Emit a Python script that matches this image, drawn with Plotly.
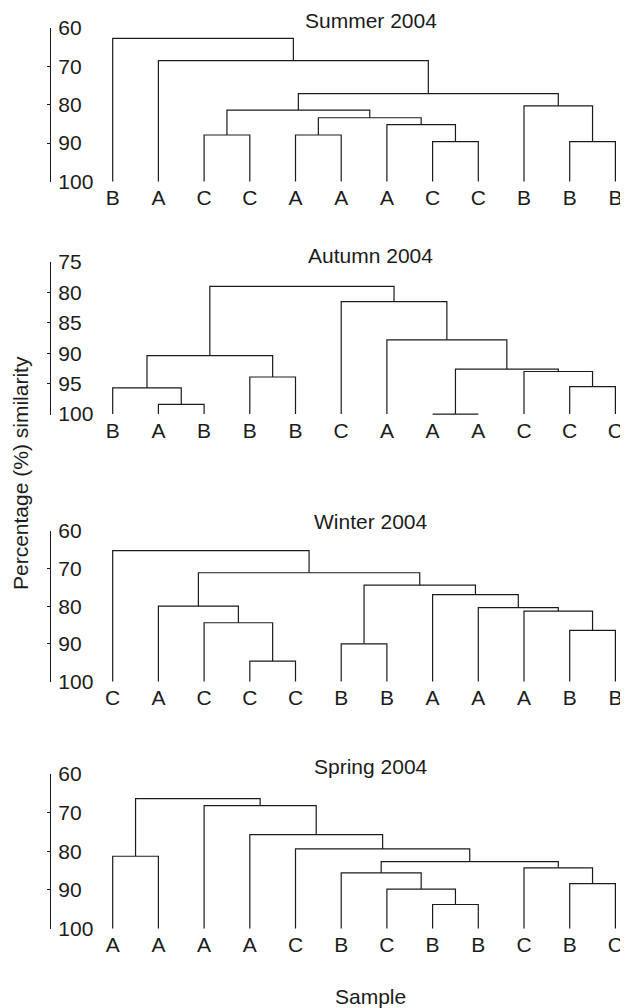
import plotly.graph_objects as go

# ---------------- data ----------------
panel_titles = ["Summer 2004", "Autumn 2004", "Winter 2004", "Spring 2004"]

summer_labels = ["B", "A", "C", "C", "A", "A", "A", "C", "C", "B", "B", "B"]
summer_left = [2, 4, 7, 10, 6, 13, 12, 9, 18, 1, 0]
summer_right = [3, 5, 8, 11, 14, 16, 17, 15, 19, 20, 21]
summer_height = [87.9, 87.9, 89.6, 89.6, 85.2, 83.4, 81.4, 80.3, 77.1, 68.5, 62.7]

autumn_labels = ["B", "A", "B", "B", "B", "C", "A", "A", "A", "C", "C", "C"]
autumn_left = [1, 0, 3, 13, 7, 10, 9, 16, 6, 5, 15]
autumn_right = [2, 12, 4, 14, 8, 11, 17, 18, 19, 20, 21]
autumn_height = [98.4, 95.7, 93.9, 90.4, 100.0, 95.5, 93.0, 92.6, 87.8, 81.5, 79.0]

winter_labels = ["C", "A", "C", "C", "C", "B", "B", "A", "A", "A", "B", "B"]
winter_left = [3, 2, 1, 5, 10, 9, 8, 7, 15, 14, 0]
winter_right = [4, 12, 13, 6, 11, 16, 17, 18, 19, 20, 21]
winter_height = [94.6, 84.4, 80.0, 90.0, 86.4, 81.3, 80.4, 76.9, 74.4, 71.1, 65.2]

spring_labels = ["A", "A", "A", "A", "C", "B", "C", "B", "B", "C", "B", "C"]
spring_left = [0, 7, 6, 5, 10, 9, 15, 4, 3, 2, 12]
spring_right = [1, 8, 13, 14, 11, 16, 17, 18, 19, 20, 21]
spring_height = [81.3, 93.8, 89.8, 85.6, 88.4, 84.3, 82.7, 79.4, 75.7, 68.2, 66.4]

y_tick_values = [
    [60, 70, 80, 90, 100],
    [75, 80, 85, 90, 95, 100],
    [60, 70, 80, 90, 100],
    [60, 70, 80, 90, 100],
]

panels = [
    (summer_labels, summer_left, summer_right, summer_height),
    (autumn_labels, autumn_left, autumn_right, autumn_height),
    (winter_labels, winter_left, winter_right, winter_height),
    (spring_labels, spring_left, spring_right, spring_height),
]

# ---------------- layout geometry ----------------
OFF = 8                      # default page margin of the html body
W, H = 628 - OFF, 1008 - OFF
ML, MR = 50 - OFF, 0
FONT = "Liberation Sans, Arial, sans-serif"
FS = 21
INK = "#1c1c1c"
# page-pixel rows of axis top / bottom for each panel
axis_px = [(28, 182), (262, 415), (531, 682), (774, 929)]
title_px = [17, 255, 521, 766]


def frac(page_y):
    return 1 - (page_y - OFF) / H


def dendro_path(labels, left, right, height):
    n = len(labels)
    xs = {i: float(i) for i in range(n)}
    hs = {i: 100.0 for i in range(n)}
    px, py = [], []
    for k, (a, b, h) in enumerate(zip(left, right, height)):
        node = n + k
        px += [xs[a], xs[a], xs[b], xs[b], None]
        py += [hs[a], h, h, hs[b], None]
        xs[node] = (xs[a] + xs[b]) / 2
        hs[node] = h
    return px, py


# x range chosen so that leaves sit ~45.7 px apart starting ~63 px right of the axis
plot_w = W - ML - MR
unit = 45.7
x_lo = -(112.7 - 50) / unit
x_hi = x_lo + plot_w / unit

fig = go.Figure()
layout = dict(
    width=W, height=H,
    margin=dict(l=ML, r=MR, t=0, b=0, pad=0),
    paper_bgcolor="white", plot_bgcolor="white",
    showlegend=False,
    font=dict(family=FONT, size=FS, color=INK),
)
annotations = []

for i, (labels, left, right, height) in enumerate(panels):
    sfx = "" if i == 0 else str(i + 1)
    px, py = dendro_path(labels, left, right, height)
    fig.add_trace(go.Scatter(
        x=px, y=py, mode="lines",
        line=dict(color=INK, width=1.2),
        xaxis="x" + sfx, yaxis="y" + sfx, hoverinfo="skip",
    ))
    top, bot = axis_px[i]
    ticks = y_tick_values[i]
    layout["xaxis" + sfx] = dict(
        domain=[0, 1], anchor="y" + sfx, automargin=False,
        range=[x_lo, x_hi],
        tickmode="array", tickvals=list(range(len(labels))), ticktext=labels,
        showline=False, showgrid=False, zeroline=False, ticks="",
        ticklabelstandoff=1,
        tickfont=dict(size=FS, color=INK, family=FONT),
    )
    layout["yaxis" + sfx] = dict(
        domain=[frac(bot), frac(top)], anchor="free", position=0, side="right",
        automargin=False,
        range=[100.15, min(ticks)],
        tickmode="array", tickvals=ticks,
        showline=True, linecolor=INK, linewidth=1.2,
        ticks="inside", ticklen=3, tickcolor=INK, tickwidth=1.2,
        ticklabelstandoff=3,
        showgrid=False, zeroline=False,
        tickfont=dict(size=FS, color=INK, family=FONT),
    )
    if i == 0:
        ty, tanchor = 1.0, "top"
    else:
        ty, tanchor = frac(title_px[i]), "middle"
    annotations.append(dict(
        text=panel_titles[i], xref="x" + sfx, yref="paper",
        x=5.65, y=ty, xanchor="center", yanchor=tanchor, borderpad=0,
        showarrow=False, font=dict(size=FS, color=INK, family=FONT),
    ))

annotations.append(dict(
    text="Sample", xref="x4", yref="paper", x=5.65, y=frac(996),
    xanchor="center", yanchor="middle", showarrow=False,
    font=dict(size=FS, color=INK, family=FONT),
))
annotations.append(dict(
    text="Percentage (%) similarity", xref="paper", yref="paper",
    x=(20 - 50) / plot_w, y=frac(473), xanchor="center", yanchor="middle",
    textangle=-90, showarrow=False, font=dict(size=FS, color=INK, family=FONT),
))
layout["annotations"] = annotations
fig.update_layout(**layout)
fig.write_html("out.html")
